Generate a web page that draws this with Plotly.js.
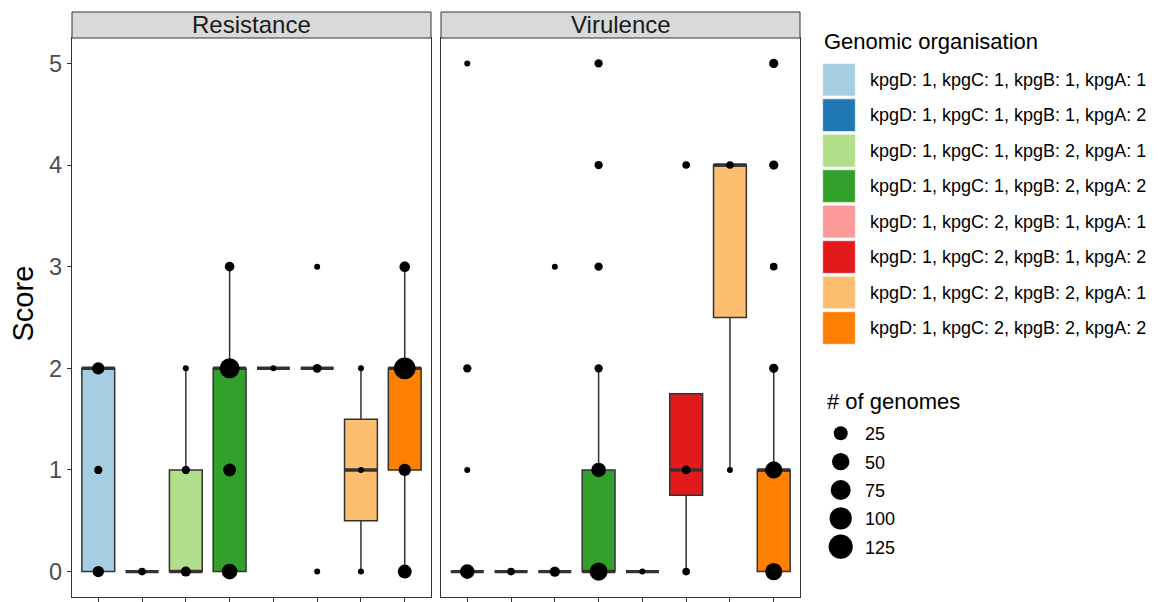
<!DOCTYPE html>
<html>
<head>
<meta charset="utf-8">
<script src="https://cdn.plot.ly/plotly-3.0.1.min.js"></script>
<style>html,body{margin:0;padding:0;background:#fff;}#chart{width:1158px;height:602px;}</style>
</head>
<body>
<div id="chart"></div>
<script>
// ---------- data ----------
const categories = [
  "kpgD: 1, kpgC: 1, kpgB: 1, kpgA: 1",
  "kpgD: 1, kpgC: 1, kpgB: 1, kpgA: 2",
  "kpgD: 1, kpgC: 1, kpgB: 2, kpgA: 1",
  "kpgD: 1, kpgC: 1, kpgB: 2, kpgA: 2",
  "kpgD: 1, kpgC: 2, kpgB: 1, kpgA: 1",
  "kpgD: 1, kpgC: 2, kpgB: 1, kpgA: 2",
  "kpgD: 1, kpgC: 2, kpgB: 2, kpgA: 1",
  "kpgD: 1, kpgC: 2, kpgB: 2, kpgA: 2"
];
const colors = ["#A6CEE3","#1F78B4","#B2DF8A","#33A02C","#FB9A99","#E31A1C","#FDBF6F","#FF7F00"];
const facets = ["Resistance", "Virulence"];

// box statistics per category
const resQ1  = [0, 0, 0, 0, 2, 2, 0.5, 1];
const resMed = [2, 0, 0, 2, 2, 2, 1,   2];
const resQ3  = [2, 0, 1, 2, 2, 2, 1.5, 2];
const resLo  = [0, 0, 0, 0, 2, 2, 0,   0];
const resHi  = [2, 0, 2, 3, 2, 2, 2,   3];

const virQ1  = [0, 0, 0, 0, 0, 0.75, 2.5, 0];
const virMed = [0, 0, 0, 0, 0, 1,    4,   1];
const virQ3  = [0, 0, 0, 1, 0, 1.75, 4,   1];
const virLo  = [0, 0, 0, 0, 0, 0,    1,   0];
const virHi  = [0, 0, 0, 2, 0, 1.75, 4,   2];

// points: category index (1-based), score, number of genomes
const resCat   = [1,1,1, 2, 3,3,3, 4,4,4,4, 5, 6,6,6, 7,7,7, 8,8,8,8];
const resScore = [0,1,2, 0, 0,1,2, 0,1,2,3, 2, 0,2,3, 0,1,2, 0,1,2,3];
const resCount = [12,3,16, 2, 7,3,1, 36,19,75,6, 1, 1,4,1, 1,1,1, 25,16,93,9];

const virCat   = [1,1,1,1, 2, 3,3, 4,4,4,4,4,4, 5, 6,6,6, 7,7, 8,8,8,8,8,8];
const virScore = [0,1,2,5, 0, 0,3, 0,1,2,3,4,5, 0, 0,1,4, 1,4, 0,1,2,3,4,5];
const virCount = [29,1,3,1, 2, 8,1, 56,29,3,3,3,3, 1, 2,4,2, 1,2, 48,48,5,2,5,5];

const sizeBreaks = [25, 50, 75, 100, 125];
const yTicks = [0, 1, 2, 3, 4, 5];

// ---------- styling helpers ----------
const BOXW = 0.75;
const sizeOf = n => 6 + 1.63 * Math.sqrt(Math.max(n - 1, 0));
const W = 1158, H = 602, ML = 72, MT = 38, MB = 5;
const plotW = W - ML, plotH = H - MT - MB;
const dom1 = [0, 359 / plotW];
const dom2 = [369 / plotW, 728 / plotW];
const dom3 = [728 / plotW, 1];

const traces = [];
function addFacet(q1, med, q3, lo, hi, cat, score, count, xa, ya) {
  categories.forEach((c, i) => {
    traces.push({
      type: "box", x: [i + 1], q1: [q1[i]], median: [med[i]], q3: [q3[i]],
      lowerfence: [lo[i]], upperfence: [hi[i]],
      width: BOXW, whiskerwidth: 0, boxpoints: false,
      fillcolor: colors[i], line: { color: "#333333", width: 1.5 },
      xaxis: xa, yaxis: ya, showlegend: false, hoverinfo: "skip", name: c
    });
  });
  // thick median line (ggplot fatten)
  const mx = [], my = [];
  med.forEach((m, i) => { mx.push(i + 1 - BOXW / 2, i + 1 + BOXW / 2, null); my.push(m, m, null); });
  traces.push({ type: "scatter", mode: "lines", x: mx, y: my, line: { color: "#333333", width: 3.4 },
    xaxis: xa, yaxis: ya, showlegend: false, hoverinfo: "skip" });
  traces.push({
    type: "scatter", mode: "markers", x: cat, y: score,
    marker: { color: "#000000", opacity: 1, size: count.map(sizeOf), line: { width: 0 } },
    xaxis: xa, yaxis: ya, showlegend: false, hoverinfo: "skip", cliponaxis: false
  });
}
addFacet(resQ1, resMed, resQ3, resLo, resHi, resCat, resScore, resCount, "x", "y");
addFacet(virQ1, virMed, virQ3, virLo, virHi, virCat, virScore, virCount, "x2", "y2");

// size legend dots on a pixel-mapped helper axis
const sizeLegY0 = 433.3, sizeLegDy = 28.35, sizeLegX = 840.7;
traces.push({
  type: "scatter", mode: "markers",
  x: sizeBreaks.map(() => sizeLegX),
  y: sizeBreaks.map((b, j) => sizeLegY0 + j * sizeLegDy),
  marker: { color: "#000000", opacity: 1, size: sizeBreaks.map(sizeOf), line: { width: 0 } },
  xaxis: "x3", yaxis: "y3", showlegend: false, hoverinfo: "skip", cliponaxis: false
});

const shapes = [], annotations = [];
// strips
[dom1, dom2].forEach((d, k) => {
  shapes.push({ type: "rect", xref: "paper", yref: "paper", x0: d[0], x1: d[1], y0: 1, y1: 1 + 26 / plotH,
    fillcolor: "#D9D9D9", line: { color: "#333333", width: 1 } });
  annotations.push({ xref: "paper", yref: "paper", x: (d[0] + d[1]) / 2, y: 1 + 13 / plotH,
    text: facets[k], showarrow: false, xanchor: "center", yanchor: "middle",
    font: { size: 24, color: "#1A1A1A" } });
});
// y title
annotations.push({ xref: "paper", yref: "paper", x: (22.5 - ML) / plotW, y: (H - MB - 304) / plotH,
  text: "Score", textangle: -90, showarrow: false, xanchor: "center", yanchor: "middle",
  font: { size: 29, color: "#000000" } });

// fill legend
annotations.push({ xref: "x3", yref: "y3", x: 821.5, y: 41, text: "Genomic organisation",
  showarrow: false, xanchor: "left", yanchor: "middle", font: { size: 22, color: "#000000" } });
categories.forEach((c, i) => {
  const yc = 79.7 + i * 35.47;
  shapes.push({ type: "rect", xref: "x3", yref: "y3", x0: 822.7, x1: 855.3, y0: yc - 16.3, y1: yc + 16.3,
    fillcolor: colors[i], line: { color: "#FFFFFF", width: 0.6 } });
  annotations.push({ xref: "x3", yref: "y3", x: 867.5, y: yc, text: c, showarrow: false,
    xanchor: "left", yanchor: "middle", font: { size: 18, color: "#000000" } });
});
// size legend
annotations.push({ xref: "x3", yref: "y3", x: 825, y: 401, text: "# of genomes",
  showarrow: false, xanchor: "left", yanchor: "middle", font: { size: 22, color: "#000000" } });
sizeBreaks.forEach((b, j) => {
  annotations.push({ xref: "x3", yref: "y3", x: 863, y: sizeLegY0 + j * sizeLegDy + 1, text: String(b),
    showarrow: false, xanchor: "left", yanchor: "middle", font: { size: 18, color: "#000000" } });
});

const xBase = {
  type: "linear", range: [0.4, 8.6], tickvals: categories.map((c, i) => i + 1), showticklabels: false,
  ticks: "outside", ticklen: 6, tickwidth: 1, tickcolor: "#333333",
  showline: true, mirror: true, linecolor: "#333333", linewidth: 1.1,
  showgrid: false, zeroline: false, fixedrange: true
};
const yBase = {
  range: [-0.25, 5.25], tickvals: yTicks, showgrid: false, zeroline: false,
  showline: true, mirror: true, linecolor: "#333333", linewidth: 1.1, fixedrange: true, domain: [0, 1]
};
const layout = {
  width: W, height: H, autosize: false,
  margin: { l: ML, r: 0, t: MT, b: MB, pad: 0 },
  paper_bgcolor: "#FFFFFF", plot_bgcolor: "rgba(0,0,0,0)",
  font: { family: "Liberation Sans, Arial, sans-serif", color: "#000000" },
  boxmode: "overlay", showlegend: false,
  xaxis: Object.assign({}, xBase, { domain: dom1, anchor: "y" }),
  xaxis2: Object.assign({}, xBase, { domain: dom2, anchor: "y2" }),
  yaxis: Object.assign({}, yBase, { anchor: "x", ticks: "outside", ticklen: 4, tickwidth: 1, tickcolor: "#333333",
    tickfont: { size: 23.5, color: "#4D4D4D" } }),
  yaxis2: Object.assign({}, yBase, { anchor: "x2", ticks: "", showticklabels: false }),
  xaxis3: { domain: dom3, range: [800, 1158], anchor: "y3", visible: false, fixedrange: true },
  yaxis3: { domain: [0, 1], range: [H - MB, MT], anchor: "x3", visible: false, fixedrange: true },
  shapes: shapes, annotations: annotations
};
Plotly.newPlot("chart", traces, layout, { staticPlot: true, displayModeBar: false });
</script>
</body>
</html>
